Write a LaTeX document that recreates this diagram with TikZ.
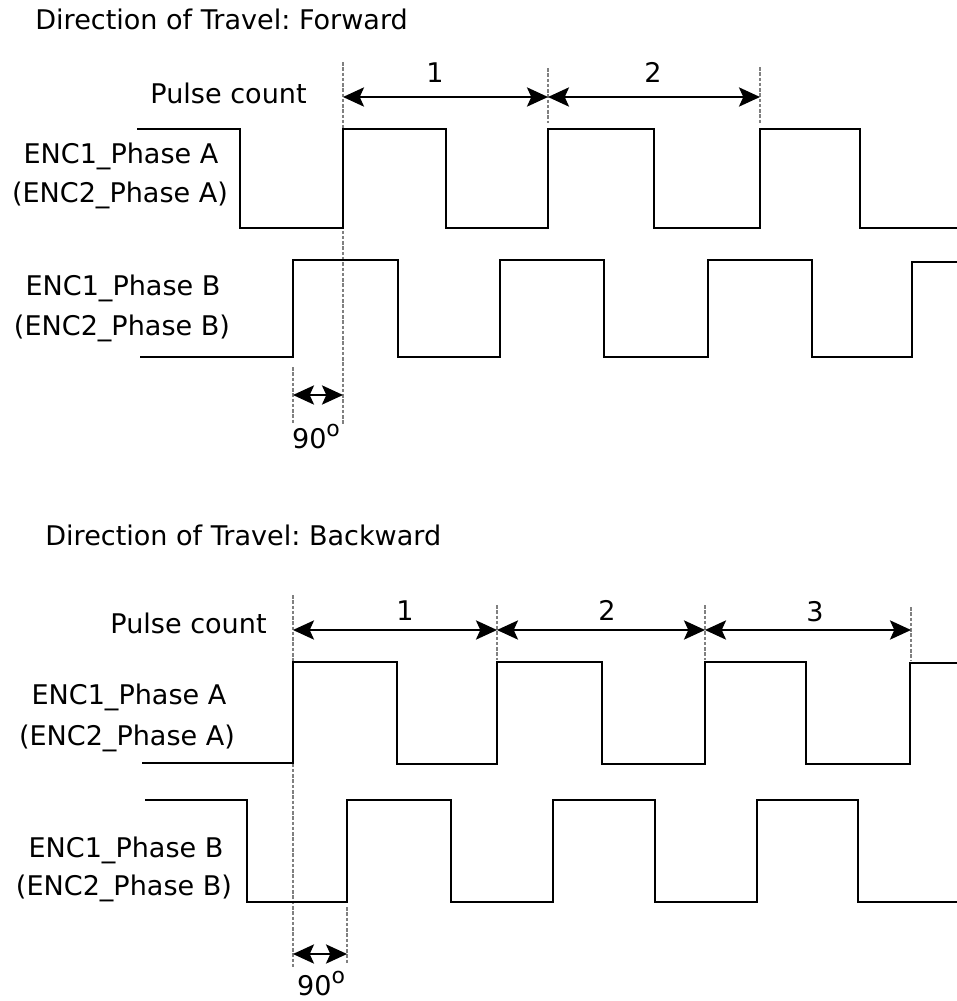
\documentclass[tikz,border=0pt]{standalone}
\usepackage{fontspec}
\setmainfont{DejaVu Sans}
\usetikzlibrary{arrows.meta}
\frenchspacing

\begin{document}
\begin{tikzpicture}[x=0.02cm,y=-0.02cm,
  wave/.style={line width=1.1pt,line join=miter},
  guide/.style={gray,line width=0.7pt,dash pattern=on 2pt off 1pt},
  dim/.style={line width=0.8pt,{Stealth[length=12pt,width=11pt,inset=2.5pt]}-{Stealth[length=12pt,width=11pt,inset=2.5pt]}},
  lbl/.style={inner sep=0pt,anchor=base,font=\fontsize{15.4}{18}\selectfont}]
\useasboundingbox (0,0) rectangle (957,1001);

% forward
\node[lbl,anchor=base west] (v1) at (35,29) {Direction of Travel: Forward};
\node[lbl,anchor=base east] (v2) at (307,103) {Pulse count};
\node[lbl] (v3) at (435,82) {1};
\node[lbl] (v4) at (653,82) {2};
\node[lbl] (v5) at (121,163) {ENC1\_Phase A};
\node[lbl] (v6) at (120,202) {(ENC2\_Phase A)};
\node[lbl] (v7) at (123,295) {ENC1\_Phase B};
\node[lbl] (v8) at (122,335) {(ENC2\_Phase B)};
\node[lbl] (v9) at (316,448) {90\raisebox{0.8ex}{\fontsize{12.5}{12}\selectfont o}};

\draw[guide] (343,62) -- (343,425);
\draw[guide] (548,68) -- (548,123);
\draw[guide] (760,67) -- (760,123);
\draw[guide] (293,367) -- (293,423);

\draw[wave] (137,129) -- (240,129) -- (240,228) -- (343,228) -- (343,129) -- (446,129) -- (446,228) -- (548,228) -- (548,129) -- (654,129) -- (654,228) -- (760,228) -- (760,129) -- (860,129) -- (860,228) -- (957,228);
\draw[wave] (140,357) -- (293,357) -- (293,260) -- (398,260) -- (398,357) -- (500,357) -- (500,260) -- (604,260) -- (604,357) -- (708,357) -- (708,260) -- (812,260) -- (812,357) -- (912,357) -- (912,262) -- (957,262);

\coordinate (v10) at (343,97);
\coordinate (v11) at (548,97);
\coordinate (v12) at (760,97);
\coordinate (v13) at (293,395);
\coordinate (v14) at (343,395);
\draw[dim] (v10) -- (v11);
\draw[dim] (v11) -- (v12);
\draw[dim] (v13) -- (v14);

% backward
\node[lbl,anchor=base west] (v15) at (45,545) {Direction of Travel: Backward};
\node[lbl,anchor=base east] (v16) at (267,633) {Pulse count};
\node[lbl] (v17) at (405,620) {1};
\node[lbl] (v18) at (607,620) {2};
\node[lbl] (v19) at (815,621) {3};
\node[lbl] (v20) at (129,704) {ENC1\_Phase A};
\node[lbl] (v21) at (127,745) {(ENC2\_Phase A)};
\node[lbl] (v22) at (126,857) {ENC1\_Phase B};
\node[lbl] (v23) at (124,895) {(ENC2\_Phase B)};
\node[lbl] (v24) at (321,995) {90\raisebox{0.8ex}{\fontsize{12.5}{12}\selectfont o}};

\draw[guide] (293,595) -- (293,967);
\draw[guide] (497,605) -- (497,660);
\draw[guide] (705,605) -- (705,660);
\draw[guide] (911,607) -- (911,660);
\draw[guide] (347,907) -- (347,963);

\draw[wave] (142,763) -- (293,763) -- (293,662) -- (397,662) -- (397,764) -- (497,764) -- (497,662) -- (602,662) -- (602,764) -- (705,764) -- (705,662) -- (806,662) -- (806,764) -- (910,764) -- (910,663) -- (957,663);
\draw[wave] (145,800) -- (247,800) -- (247,902) -- (347,902) -- (347,800) -- (451,800) -- (451,902) -- (553,902) -- (553,800) -- (655,800) -- (655,902) -- (757,902) -- (757,800) -- (858,800) -- (858,902) -- (957,902);

\coordinate (v25) at (293,630);
\coordinate (v26) at (497,630);
\coordinate (v27) at (705,630);
\coordinate (v28) at (911,630);
\coordinate (v29) at (293,954);
\coordinate (v30) at (347,954);
\draw[dim] (v25) -- (v26);
\draw[dim] (v26) -- (v27);
\draw[dim] (v27) -- (v28);
\draw[dim] (v29) -- (v30);
\end{tikzpicture}
\end{document}
